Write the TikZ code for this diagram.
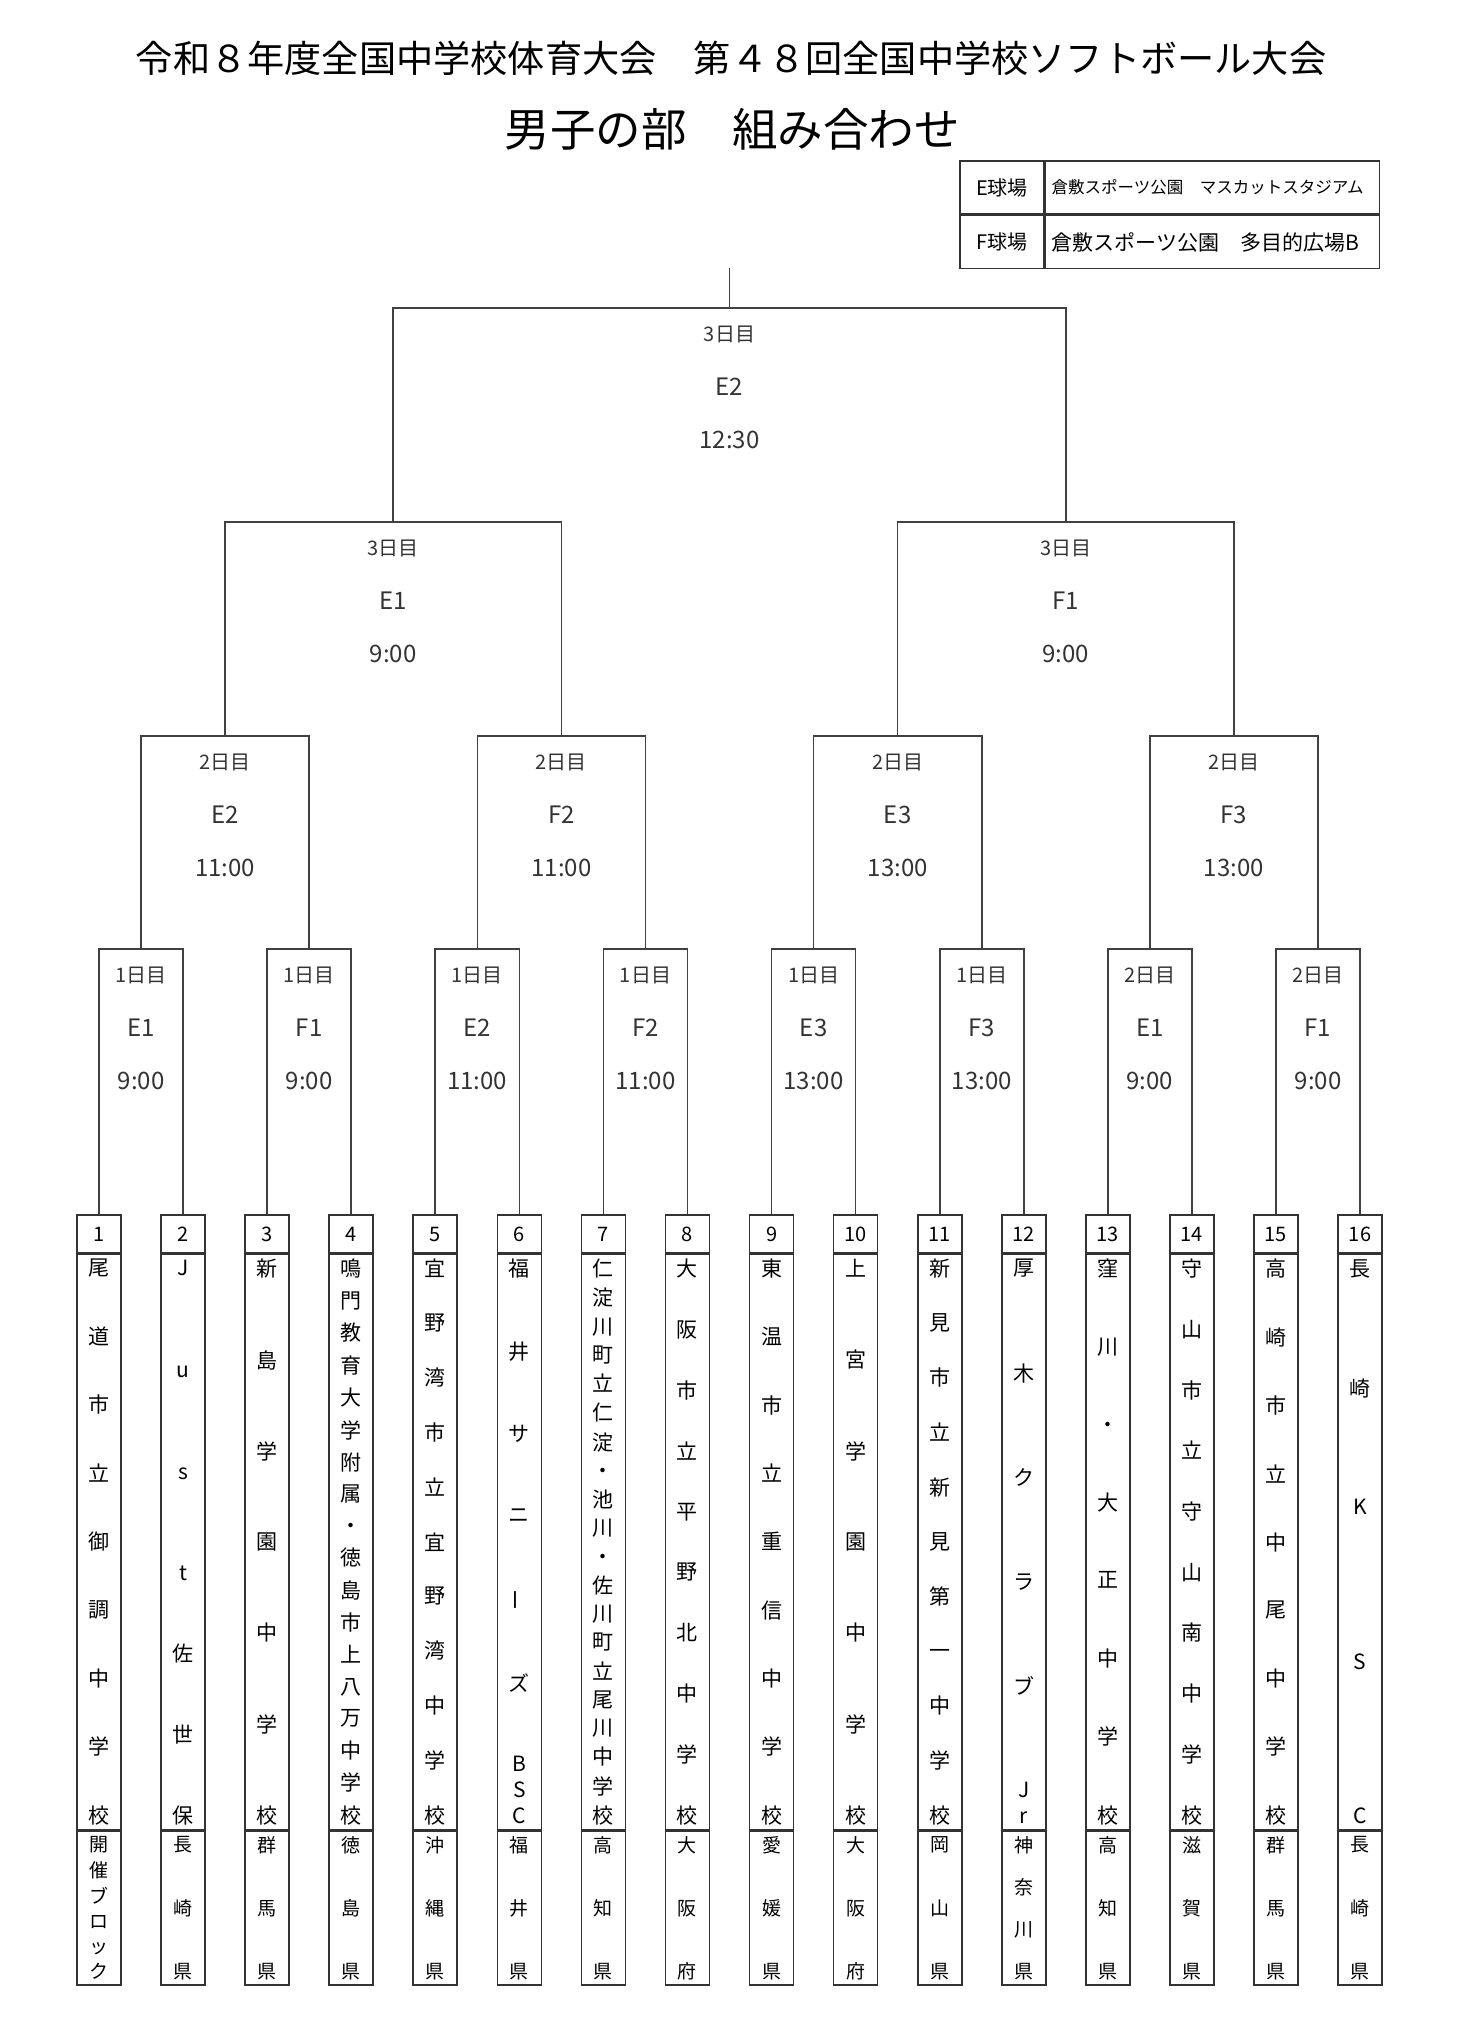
\documentclass[tikz,border=0pt]{standalone}
\usepackage{fontspec}
\setmainfont{Noto Sans CJK JP}
\usetikzlibrary{positioning}

\newif\iflatgap
\newcommand\latc[1]{\global\latgaptrue#1}
\newcommand\tcy[1]{\vbox{\offinterlineskip\foreach \tc [count=\ti] in {#1}{\ifnum\ti>1 \vskip 10pt\fi\hbox to 24pt{\hss\vphantom{B}\tc\hss}}}}
\newcommand\vstack[3]{\vbox to #1{\offinterlineskip
		\foreach \ch [count=\ci] in {#3}{%
			\global\latgapfalse
			\setbox0=\hbox to #2{\hss\vphantom{国}\ch\hss}%
			\ifnum\ci>1 \vfill\iflatgap\vskip 0pt plus .35fill\fi\fi
			\box0}}}
\newcommand\team[3]{%
	\node[numbox] (t#1) at ({99+84.07*(#1-1)},1234) {#1};
	\node[namebox, below=0pt of t#1] (n#1) {\vstack{564pt}{40pt}{#2}};
	\node[prefbox, below=0pt of n#1] (p#1) {\vstack{142pt}{40pt}{#3}};}
\newcommand\game[4]{%
	\node[daylbl] (#1d) at ([yshift=-26pt]#1) {#2};
	\node[gamelbl] (#1g) at ([yshift=-79pt]#1) {#3};
	\node[gamelbl] (#1h) at ([yshift=-132pt]#1) {#4};}

\tikzset{
	bline/.style={line width=1.6pt, draw=black!75},
	tbox/.style={draw=black!80, line width=1.6pt, inner sep=0pt, minimum width=44pt},
	numbox/.style={tbox, minimum height=38pt, font=\fontsize{20}{24}\selectfont},
	namebox/.style={tbox, minimum height=575pt, font=\fontsize{21}{25}\selectfont},
	prefbox/.style={tbox, minimum height=154pt, font=\fontsize{19}{23}\selectfont},
	daylbl/.style={font=\fontsize{20}{24}\selectfont, text=black!80},
	gamelbl/.style={font=\fontsize{24}{28}\selectfont, text=black!80},
	cell/.style={draw=black!80, line width=1.6pt, inner sep=0pt, minimum height=53pt},
	venue/.style={cell, text width=322pt, inner xsep=6pt, align=left},
}

\begin{document}
\begin{tikzpicture}[x=1pt, y=-1pt]
	\useasboundingbox (0,0) rectangle (1480,2021);

	\node[font=\fontsize{37.2}{42}\selectfont] (title) at (731,58) {令和８年度全国中学校体育大会　第４８回全国中学校ソフトボール大会};
	\node[font=\fontsize{45.5}{50}\selectfont] (subtitle) at (732,129) {男子の部　組み合わせ};

	\node[cell, minimum width=84pt, font=\fontsize{20}{24}\selectfont] (ek) at (1002,187.5) {E球場};
	\node[venue, right=0pt of ek, font=\fontsize{16.5}{20}\selectfont] (ev) {倉敷スポーツ公園　マスカットスタジアム};
	\node[cell, minimum width=84pt, below=0pt of ek, font=\fontsize{20}{24}\selectfont] (fk) {F球場};
	\node[venue, right=0pt of fk, font=\fontsize{21}{25}\selectfont] (fv) {倉敷スポーツ公園　多目的広場B};

	\team{1}{尾,道,市,立,御,調,中,学,校}{開,催,ブ,ロ,ッ,ク}
	\team{2}{J,\latc{u},\latc{s},\latc{t},佐,世,保}{長,崎,県}
	\team{3}{新,島,学,園,中,学,校}{群,馬,県}
	\team{4}{鳴,門,教,育,大,学,附,属,・,徳,島,市,上,八,万,中,学,校}{徳,島,県}
	\team{5}{宜,野,湾,市,立,宜,野,湾,中,学,校}{沖,縄,県}
	\team{6}{福,井,サ,ニ,{\rotatebox[origin=c]{90}{ー}},ズ,{\tcy{B,S,C}}}{福,井,県}
	\team{7}{仁,淀,川,町,立,仁,淀,・,池,川,・,佐,川,町,立,尾,川,中,学,校}{高,知,県}
	\team{8}{大,阪,市,立,平,野,北,中,学,校}{大,阪,府}
	\team{9}{東,温,市,立,重,信,中,学,校}{愛,媛,県}
	\team{10}{上,宮,学,園,中,学,校}{大,阪,府}
	\team{11}{新,見,市,立,新,見,第,一,中,学,校}{岡,山,県}
	\team{12}{厚,木,ク,ラ,ブ,{\tcy{J,r}}}{神,奈,川,県}
	\team{13}{窪,川,・,大,正,中,学,校}{高,知,県}
	\team{14}{守,山,市,立,守,山,南,中,学,校}{滋,賀,県}
	\team{15}{高,崎,市,立,中,尾,中,学,校}{群,馬,県}
	\team{16}{長,崎,K,\latc{S},\latc{C}}{長,崎,県}

	\foreach \k in {1,...,8} \coordinate (a\k) at ({99+84.07*(2*\k-1.5)},949);
	\foreach \k in {1,...,4} \coordinate (b\k) at ({99+84.07*(4*\k-2.5)},736);
	\foreach \k in {1,2} \coordinate (c\k) at ({99+84.07*(8*\k-4.5)},522);
	\coordinate (d) at ({99+84.07*7.5},308);
	\coordinate (top) at (d |- 0,268);

	\foreach \k [evaluate=\k as \i using int(2*\k-1), evaluate=\k as \j using int(2*\k)] in {1,...,8}
		\draw[bline] (t\i.north) |- (a\k) -| (t\j.north);
	\foreach \k [evaluate=\k as \i using int(2*\k-1), evaluate=\k as \j using int(2*\k)] in {1,...,4}
		\draw[bline] (a\i) |- (b\k) -| (a\j);
	\foreach \k [evaluate=\k as \i using int(2*\k-1), evaluate=\k as \j using int(2*\k)] in {1,2}
		\draw[bline] (b\i) |- (c\k) -| (b\j);
	\draw[bline] (c1) |- (d) -| (c2);
	\draw[bline] (d) -- (top);

	\game{a1}{1日目}{E1}{9:00}
	\game{a2}{1日目}{F1}{9:00}
	\game{a3}{1日目}{E2}{11:00}
	\game{a4}{1日目}{F2}{11:00}
	\game{a5}{1日目}{E3}{13:00}
	\game{a6}{1日目}{F3}{13:00}
	\game{a7}{2日目}{E1}{9:00}
	\game{a8}{2日目}{F1}{9:00}
	\game{b1}{2日目}{E2}{11:00}
	\game{b2}{2日目}{F2}{11:00}
	\game{b3}{2日目}{E3}{13:00}
	\game{b4}{2日目}{F3}{13:00}
	\game{c1}{3日目}{E1}{9:00}
	\game{c2}{3日目}{F1}{9:00}
	\game{d}{3日目}{E2}{12:30}
\end{tikzpicture}
\end{document}
